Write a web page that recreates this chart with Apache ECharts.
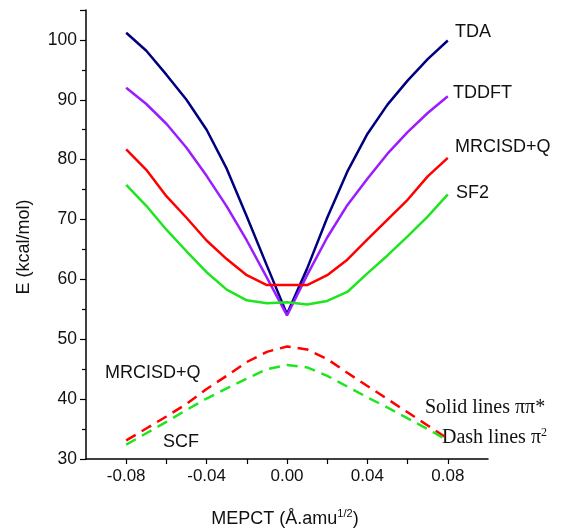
<!DOCTYPE html>
<html>
<head>
<meta charset="utf-8">
<script src="https://cdn.jsdelivr.net/npm/echarts@6/dist/echarts.min.js"></script>
<style>html,body{margin:0;padding:0;background:#fff;}#c{width:565px;height:529px;}</style>
</head>
<body>
<div id="c"></div>
<script>
// MEPCT coordinate (Å.amu^1/2)
const xs = [-0.08,-0.07,-0.06,-0.05,-0.04,-0.03,-0.02,-0.01,0.00,0.01,0.02,0.03,0.04,0.05,0.06,0.07,0.08];
// Solid lines: ππ* state (kcal/mol)
const tda      = [101.2,98.2,94.2,90.0,85.0,78.5,70.5,62.3,54.2,61.8,70.3,78.0,84.3,89.2,93.2,96.8,99.9];
const tddft    = [92.0,89.3,86.0,82.0,77.3,72.2,66.5,60.3,54.0,60.7,67.0,72.4,76.8,81.0,84.6,87.8,90.6];
const mrcisdS  = [81.7,78.3,73.9,70.3,66.5,63.4,60.7,59.05,59.05,59.05,60.7,63.3,66.7,70.0,73.3,77.2,80.3];
const sf2      = [75.8,72.3,68.3,64.7,61.2,58.3,56.5,56.0,56.2,55.8,56.4,57.9,61.0,64.0,67.2,70.5,74.2];
// Dash lines: π² state (kcal/mol)
const mrcisdD  = [33.1,35.1,37.1,39.2,41.7,43.9,46.2,47.9,48.8,48.3,46.7,44.4,42.2,40.0,37.8,35.6,33.4];
const scf      = [32.4,34.3,36.2,38.2,40.1,41.8,43.4,45.0,45.7,45.3,43.9,42.1,40.3,38.6,36.8,35.0,33.1];
const yTickLabels = [30,40,50,60,70,80,90,100];

const pairs = ys => xs.map((x,i)=>[x, ys[i]]);
const SANS = '"Liberation Sans", Arial, sans-serif';
const SERIF = '"Liberation Serif", "Times New Roman", serif';

function line(name, ys, color, dashed){
  return {
    name, type:'line', data: pairs(ys), showSymbol:false, symbol:'none', smooth:false,
    lineStyle:{color, width:2.5, type: dashed ? [11,7] : 'solid'},
    z: dashed ? 3 : 2, silent:true, animation:false
  };
}

const chart = echarts.init(document.getElementById('c'), null, {renderer:'canvas'});
chart.setOption({
  backgroundColor:'#ffffff',
  animation:false,
  grid:{left:86, right:77, top:10, bottom:70},
  xAxis:{
    type:'value', min:-0.1, max:0.1, interval:0.02,
    axisLine:{show:true, onZero:false, lineStyle:{color:'#000', width:1.5}},
    axisTick:{show:true, length:5, lineStyle:{color:'#000', width:1.2}},
    splitLine:{show:false},
    axisLabel:{
      color:'#111', fontFamily:SANS, fontSize:17, margin:9,
      showMinLabel:false, showMaxLabel:false,
      formatter: v => {
        const k = Math.round(v*100);
        return (Math.abs(k) % 4 === 0 && Math.abs(k) <= 8) ? (k/100).toFixed(2) : '';
      }
    }
  },
  yAxis:{
    type:'value', min:30, max:105, interval:10,
    axisLine:{show:true, onZero:false, lineStyle:{color:'#000', width:1.5}},
    axisTick:{show:true, length:6, lineStyle:{color:'#000', width:1.2}},
    minorTick:{show:true, splitNumber:2, length:4, lineStyle:{color:'#000', width:1.2}},
    splitLine:{show:false},
    axisLabel:{
      color:'#111', fontFamily:SANS, fontSize:17.5, margin:9, showMaxLabel:false,
      formatter: v => yTickLabels.indexOf(Math.round(v)) >= 0 ? String(Math.round(v)) : ''
    }
  },
  series:[
    line('TDA', tda, '#00007f', false),
    line('TDDFT', tddft, '#9b1cff', false),
    line('MRCISD+Q', mrcisdS, '#ff0000', false),
    line('SF2', sf2, '#1ee61e', false),
    line('MRCISD+Q π²', mrcisdD, '#ff0000', true),
    line('SCF', scf, '#1ee61e', true)
  ],
  graphic:[
    {type:'text', x:455, y:32, style:{text:'TDA', font:'18px '+SANS, fill:'#111', textAlign:'left', textVerticalAlign:'middle'}},
    {type:'text', x:453, y:93, style:{text:'TDDFT', font:'18px '+SANS, fill:'#111', textAlign:'left', textVerticalAlign:'middle'}},
    {type:'text', x:455, y:147, style:{text:'MRCISD+Q', font:'18px '+SANS, fill:'#111', textAlign:'left', textVerticalAlign:'middle'}},
    {type:'text', x:456, y:193, style:{text:'SF2', font:'18px '+SANS, fill:'#111', textAlign:'left', textVerticalAlign:'middle'}},
    {type:'text', x:105, y:373, style:{text:'MRCISD+Q', font:'18px '+SANS, fill:'#111', textAlign:'left', textVerticalAlign:'middle'}},
    {type:'text', x:163, y:442, style:{text:'SCF', font:'18px '+SANS, fill:'#111', textAlign:'left', textVerticalAlign:'middle'}},
    {type:'text', x:425, y:408, style:{text:'Solid lines ππ*', font:'20px '+SERIF, fill:'#111', textAlign:'left', textVerticalAlign:'middle'}},
    {type:'text', x:442, y:438, style:{
      text:'Dash lines π{sup|2}', font:'20px '+SERIF, fill:'#111', textAlign:'left', textVerticalAlign:'middle',
      rich:{sup:{font:'12px '+SERIF, fill:'#111', verticalAlign:'top', padding:[0,0,10,0]}}
    }},
    {type:'text', x:24, y:247, rotation:Math.PI/2, style:{text:'E (kcal/mol)', font:'18px '+SANS, fill:'#111', textAlign:'center', textVerticalAlign:'middle'}},
    {type:'text', x:285, y:519, style:{
      text:'MEPCT (Å.amu{sup|1/2})', font:'18px '+SANS, fill:'#111', textAlign:'center', textVerticalAlign:'middle',
      rich:{sup:{font:'11px '+SANS, fill:'#111', padding:[0,0,10,0]}}
    }}
  ]
});
</script>
</body>
</html>
